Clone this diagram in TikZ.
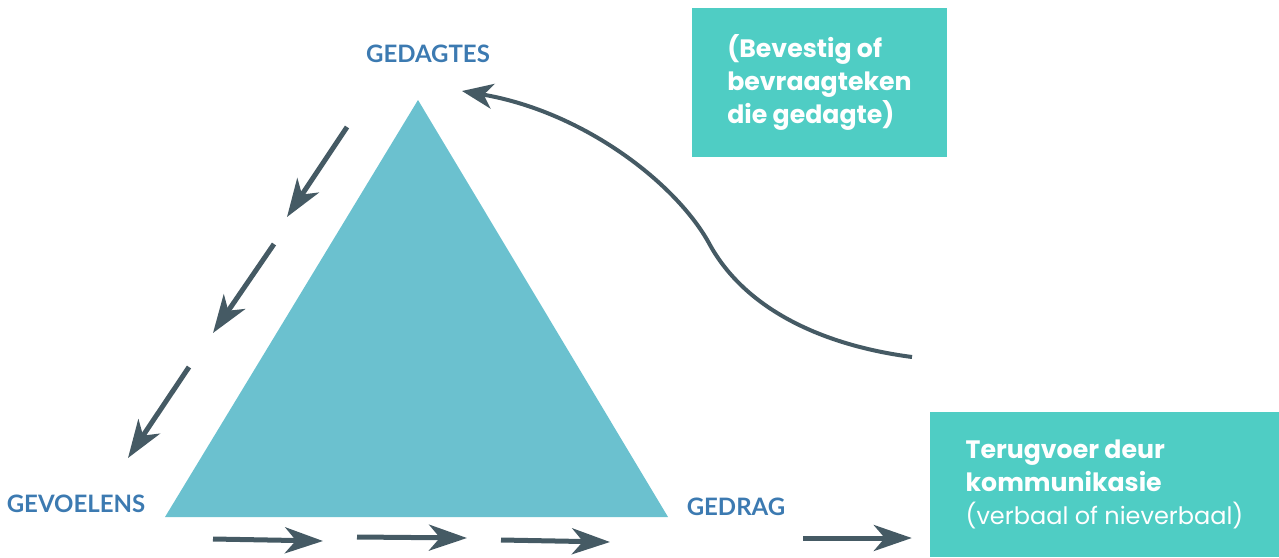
\documentclass[tikz,border=0pt]{standalone}
\usepackage{fontspec}
\setmainfont{Poppins}
\newfontfamily\labelfont{Lato}
\usetikzlibrary{arrows.meta}

\newlength{\du}
\setlength{\du}{1\unitlength}

\definecolor{trianglecolor}{HTML}{6BC1CF}
\definecolor{boxcolor}{HTML}{4FCDC4}
\definecolor{arrowcolor}{HTML}{455A64}
\definecolor{labelcolor}{HTML}{3C7AB1}

\newcommand{\boxbold}{\bfseries\fontsize{25.2}{33}\selectfont}

\tikzset{
  cornerlabel/.style={text=labelcolor, font=\labelfont\bfseries\fontsize{24}{24}\selectfont, inner sep=0pt},
  notebox/.style={fill=boxcolor, text=white, align=left, inner sep=0pt,
    font=\fontsize{24}{33}\selectfont},
  flowarrow/.style={draw=arrowcolor, line width=5pt,
    -{Stealth[length=38pt, width=26pt, inset=11pt]}},
  backarrow/.style={draw=arrowcolor, line width=4pt,
    -{Stealth[length=31pt, width=25pt, inset=9pt]}}
}

\begin{document}
\begin{tikzpicture}
\pgftransformxscale{1.000000}
\pgftransformyscale{-1.000000}
\useasboundingbox (0\du,0\du) rectangle (1279\du,557\du);

% triangle
\fill[trianglecolor] (418\du,100\du)--(668\du,517\du)--(165\du,517\du)--cycle;

% corner labels
\node[cornerlabel] (gedagtes) at (428\du,54\du) {GEDAGTES};
\node[cornerlabel] (gevoelens) at (76\du,504\du) {GEVOELENS};
\node[cornerlabel] (gedrag) at (736\du,507\du) {GEDRAG};

% boxes
\node[notebox, minimum width=255\du, minimum height=149\du] (bevestig) at (819.5\du,82.5\du)
  {\boxbold (Bevestig of\\\boxbold bevraagteken\\\boxbold die gedagte)};
\node[notebox, minimum width=349\du, minimum height=145\du] (terugvoer) at (1104.5\du,484.5\du)
  {\boxbold Terugvoer deur\\\boxbold kommunikasie\\(verbaal of nieverbaal)};

% left side arrows
\coordinate (l1a) at (347\du,127\du);
\coordinate (l1b) at (287\du,217\du);
\coordinate (l2a) at (274\du,244\du);
\coordinate (l2b) at (213\du,333\du);
\coordinate (l3a) at (189\du,367\du);
\coordinate (l3b) at (128\du,458\du);
\draw[flowarrow] (l1a)--(l1b);
\draw[flowarrow] (l2a)--(l2b);
\draw[flowarrow] (l3a)--(l3b);

% bottom arrows
\coordinate (b1a) at (213\du,539\du);
\coordinate (b1b) at (323\du,541\du);
\coordinate (b2a) at (357\du,537\du);
\coordinate (b2b) at (467\du,538\du);
\coordinate (b3a) at (501\du,540\du);
\coordinate (b3b) at (610\du,542\du);
\coordinate (b4a) at (803\du,538\du);
\draw[flowarrow] (b1a)--(b1b);
\draw[flowarrow] (b2a)--(b2b);
\draw[flowarrow] (b3a)--(b3b);
\draw[flowarrow, shorten >=18pt] (b4a)--(b4a-|terugvoer.west);

% feedback curve
\coordinate (fstart) at (912\du,357\du);
\coordinate (fmid) at (710\du,245\du);
\coordinate (fend) at (462\du,91\du);
\draw[backarrow] (fstart) .. controls (820\du,345\du) and (745\du,308\du) .. (fmid)
  .. controls (678\du,185\du) and (585\du,112\du) .. (fend);
\end{tikzpicture}
\end{document}
